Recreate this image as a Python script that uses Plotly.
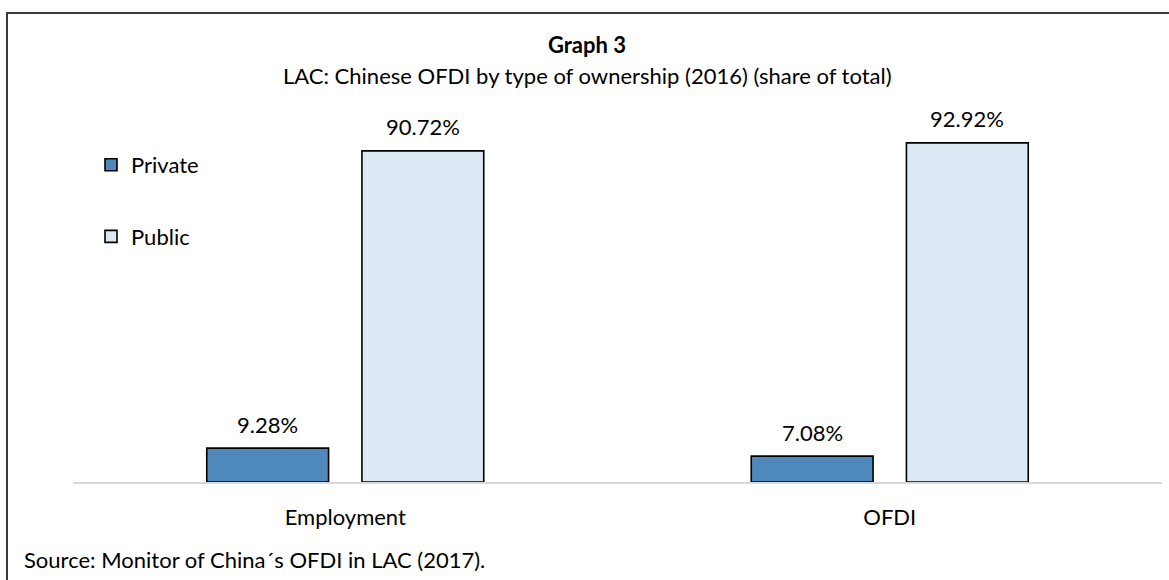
import plotly.graph_objects as go

# ---- data ----
categories = ["Employment", "OFDI"]
series_names = ["Private", "Public"]
private_values = [9.28, 7.08]
public_values = [90.72, 92.92]

title_main = "Graph 3"
title_sub = "LAC: Chinese OFDI by type of ownership (2016) (share of total)"
source_text = "Source: Monitor of China\u00b4s OFDI in LAC (2017)."

# ---- layout constants (pixels) ----
W, H = 1169, 580
L, R = 73, 7
T, B = 117, 98
PW = W - L - R
PH = H - T - B

def px_x(x):
    return (x - L) / PW

def px_y(y):
    return (H - B - y) / PH

FONT = "Lato"
FS = 22
colors = {"Private": "#4f88bb", "Public": "#dde8f5"}
BARGAP = 0.43
BARGROUPGAP = 0.215

fig = go.Figure()
for name, vals in zip(series_names, [private_values, public_values]):
    fig.add_trace(go.Bar(
        x=categories, y=vals, name=name, legendgroup=name,
        marker=dict(color=colors[name], line=dict(color="#000000", width=1.6)),
        hoverinfo="skip",
    ))

# value labels above bars
slot = (1 - BARGAP) / 2
for si, vals in enumerate([private_values, public_values]):
    off = (si - 0.5) * slot
    for ci, v in enumerate(vals):
        fig.add_annotation(
            x=ci + off, y=v, xref="x", yref="y", text=f"{v:.2f}%",
            showarrow=False, yanchor="middle", yshift=24,
            font=dict(family=FONT, size=FS, color="#000000"),
        )

# titles
fig.add_annotation(x=px_x(587), y=px_y(45), xref="paper", yref="paper",
                   text=f"<b>{title_main}</b>", showarrow=False,
                   xanchor="center", yanchor="middle",
                   font=dict(family=FONT, size=FS, color="#000000"))
fig.add_annotation(x=px_x(587), y=px_y(76), xref="paper", yref="paper",
                   text=title_sub, showarrow=False,
                   xanchor="center", yanchor="middle",
                   font=dict(family=FONT, size=FS, color="#000000"))
fig.add_annotation(x=px_x(22), y=px_y(559), xref="paper", yref="paper",
                   text=source_text, showarrow=False,
                   xanchor="left", yanchor="middle",
                   font=dict(family=FONT, size=FS, color="#000000"))

# outer border
fig.add_shape(type="rect", xref="paper", yref="paper",
              x0=px_x(7), x1=px_x(W + 10), y0=px_y(H + 10), y1=px_y(13),
              line=dict(color="#3a3a3a", width=2), fillcolor="rgba(0,0,0,0)",
              layer="above")

fig.update_layout(
    width=W, height=H,
    margin=dict(l=L, r=R, t=T, b=B, autoexpand=False),
    paper_bgcolor="white", plot_bgcolor="white",
    barmode="group", bargap=BARGAP, bargroupgap=BARGROUPGAP,
    showlegend=True,
    legend=dict(x=px_x(91), y=px_y(144), xanchor="left", yanchor="top",
                font=dict(family=FONT, size=FS, color="#000000"),
                tracegroupgap=40, itemwidth=30, bgcolor="rgba(0,0,0,0)"),
    font=dict(family=FONT, size=FS, color="#000000"),
    xaxis=dict(showline=True, linecolor="#d9d9d9", linewidth=1.5,
               showgrid=False, ticks="", ticklabelstandoff=15,
               tickfont=dict(family=FONT, size=FS, color="#000000"),
               fixedrange=True),
    yaxis=dict(range=[0, 100], visible=False, showgrid=False,
               zeroline=False, fixedrange=True),
)

fig.write_html("out.html")
